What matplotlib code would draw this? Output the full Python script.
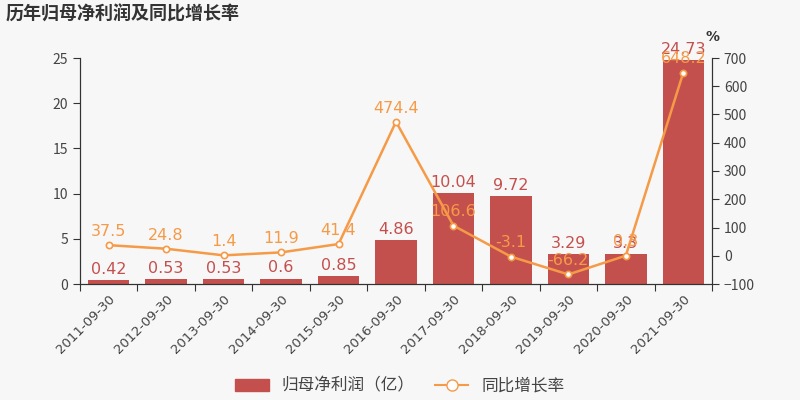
import matplotlib
matplotlib.use("Agg")
import matplotlib.pyplot as plt
import numpy as np

plt.rcParams['font.family'] = ['Noto Sans CJK SC', 'DejaVu Sans']

categories = ["2011-09-30", "2012-09-30", "2013-09-30", "2014-09-30", "2015-09-30",
              "2016-09-30", "2017-09-30", "2018-09-30", "2019-09-30", "2020-09-30", "2021-09-30"]
profit = [0.42, 0.53, 0.53, 0.6, 0.85, 4.86, 10.04, 9.72, 3.29, 3.3, 24.73]
growth = [37.5, 24.8, 1.4, 11.9, 41.4, 474.4, 106.6, -3.1, -66.2, 0.3, 648.2]
profit_labels = ["0.42", "0.53", "0.53", "0.6", "0.85", "4.86", "10.04", "9.72", "3.29", "3.3", "24.73"]
growth_labels = ["37.5", "24.8", "1.4", "11.9", "41.4", "474.4", "106.6", "-3.1", "-66.2", "0.3", "648.2"]

bg = '#f7f7f7'
bar_color = '#c4504e'
line_color = '#f59a47'
axis_color = '#333333'
text_color = '#444444'

fig = plt.figure(figsize=(8, 4), dpi=100, facecolor=bg)
ax = fig.add_axes([0.1, 0.29, 0.79, 0.565], facecolor=bg)
ax2 = ax.twinx()

x = np.arange(len(categories))
ax.bar(x, profit, width=0.72, color=bar_color, zorder=2)
for xi, v, lab in zip(x, profit, profit_labels):
    ax.text(xi, v + 0.35, lab, ha='center', va='bottom', color=bar_color, fontsize=11.5,
            family='DejaVu Sans', zorder=5)

ax.set_xlim(-0.5, len(categories) - 0.5)
ax.set_ylim(0, 25)
ax.set_yticks([0, 5, 10, 15, 20, 25])
ax.set_xticks(np.arange(-0.5, len(categories), 1.0), minor=False)
ax.set_xticklabels([])
ax.set_xticks(x, minor=True)
ax.set_xticklabels(categories, minor=True, rotation=45, ha='right', rotation_mode='anchor',
                   fontsize=9.5, color=text_color, family='DejaVu Sans')
ax.tick_params(axis='x', which='minor', length=0, pad=6)
ax.tick_params(axis='x', which='major', length=5, color=axis_color)
ax.tick_params(axis='y', length=5, color=axis_color, labelcolor=text_color, labelsize=10)

ax2.plot(x, growth, color=line_color, lw=1.8, marker='o', markersize=4.5,
         markerfacecolor='white', markeredgecolor=line_color, markeredgewidth=1.2, zorder=4)
for xi, v, lab in zip(x, growth, growth_labels):
    ax2.text(xi, v + 22, lab, ha='center', va='bottom', color=line_color, fontsize=11.5,
             family='DejaVu Sans', zorder=5)
ax2.set_ylim(-100, 700)
ax2.set_yticks([-100, 0, 100, 200, 300, 400, 500, 600, 700])
ax2.tick_params(axis='y', length=5, color=axis_color, labelcolor=text_color, labelsize=10)
ax2.text(1.0, 1.06, '%', transform=ax2.transAxes, ha='center', va='bottom', fontsize=10,
         color=axis_color, fontweight='bold', family='DejaVu Sans')

for a in (ax, ax2):
    a.spines['top'].set_visible(False)
    a.spines['left'].set_color(axis_color)
    a.spines['right'].set_color(axis_color)
    a.spines['bottom'].set_color(axis_color)
ax.set_zorder(ax2.get_zorder() - 1)
ax2.patch.set_visible(False)

fig.text(0.007, 0.965, '历年归母净利润及同比增长率', fontsize=13, fontweight='bold',
         color='#333333', va='center', ha='left')

from matplotlib.patches import Patch
from matplotlib.lines import Line2D
handles = [Patch(facecolor=bar_color, edgecolor=bar_color, label='归母净利润（亿）'),
           Line2D([0], [0], color=line_color, lw=1.5, marker='o', markersize=8,
                  markerfacecolor='white', markeredgecolor=line_color, label='同比增长率')]
fig.legend(handles=handles, loc='center', bbox_to_anchor=(0.5, 0.035), ncol=2,
           frameon=False, fontsize=12, handlelength=2.0, columnspacing=1.2,
           labelcolor=text_color)

fig.savefig('out.png', dpi=100, facecolor=bg)
